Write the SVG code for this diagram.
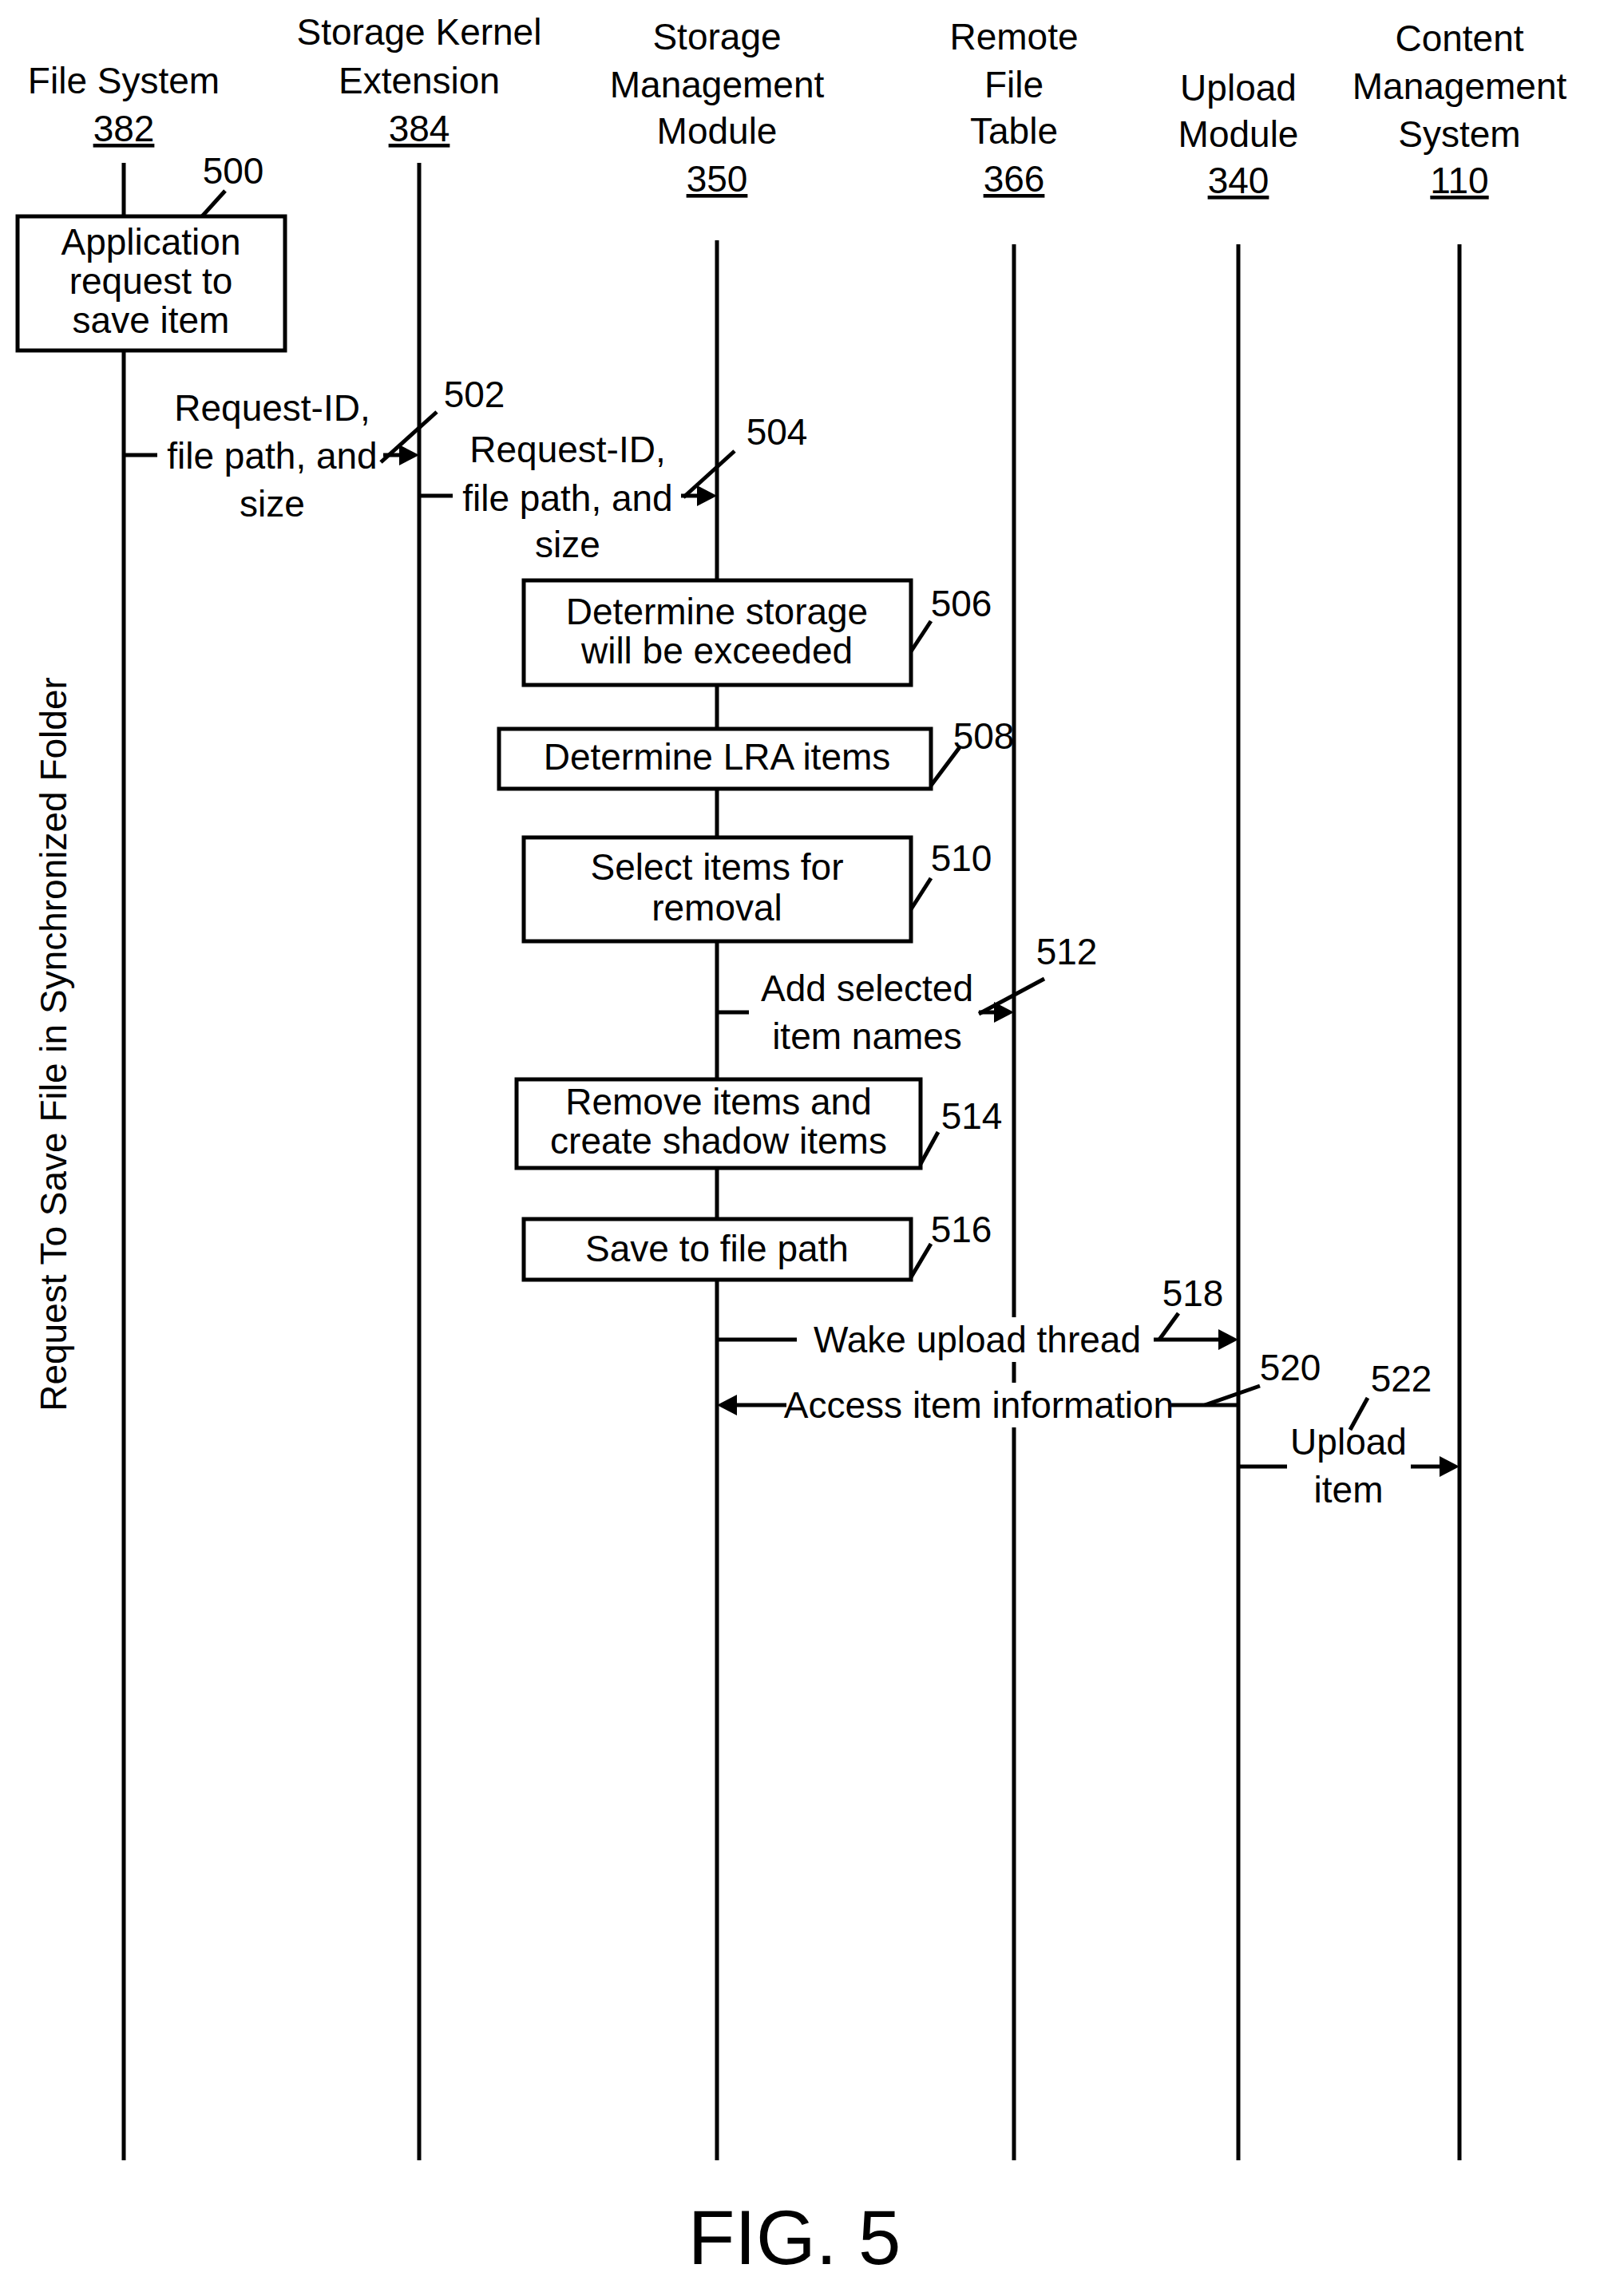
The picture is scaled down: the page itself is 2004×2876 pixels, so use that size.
<svg xmlns="http://www.w3.org/2000/svg" width="2004" height="2876" viewBox="0 0 2004 2876">
<style>
text{font-family:"Liberation Sans",Arial,sans-serif;font-size:46px;fill:#000;text-anchor:middle}
.l{stroke:#000;stroke-width:5;fill:none}
.b{stroke:#000;stroke-width:5;fill:#fff}
.u{text-decoration:underline}
</style>
<rect width="2004" height="2876" fill="#fff"/>
<g id="lifelines" class="l">
<line x1="155" y1="204" x2="155" y2="2706"/>
<line x1="525" y1="204" x2="525" y2="2706"/>
<line x1="898" y1="301" x2="898" y2="2706"/>
<line x1="1270" y1="306" x2="1270" y2="2706"/>
<line x1="1551" y1="306" x2="1551" y2="2706"/>
<line x1="1828" y1="306" x2="1828" y2="2706"/>
</g>
<g id="headers">
<text x="155" y="117">File System</text><text x="155" y="177" class="u">382</text>
<text x="525" y="56">Storage Kernel</text><text x="525" y="117">Extension</text><text x="525" y="177" class="u">384</text>
<text x="898" y="62">Storage</text><text x="898" y="122">Management</text><text x="898" y="180">Module</text><text x="898" y="240" class="u">350</text>
<text x="1270" y="62">Remote</text><text x="1270" y="122">File</text><text x="1270" y="180">Table</text><text x="1270" y="240" class="u">366</text>
<text x="1551" y="126">Upload</text><text x="1551" y="184">Module</text><text x="1551" y="242" class="u">340</text>
<text x="1828" y="64">Content</text><text x="1828" y="124">Management</text><text x="1828" y="184">System</text><text x="1828" y="242" class="u">110</text>
</g>
<g id="n500"><rect class="b" x="22" y="271" width="335" height="168"/>
<text x="189" y="319">Application</text><text x="189" y="368">request to</text><text x="189" y="417">save item</text>
<text x="292" y="230">500</text><line class="l" x1="282" y1="239" x2="253" y2="271"/></g>
<g id="n506"><rect class="b" x="656" y="727" width="485" height="131"/>
<text x="898" y="782">Determine storage</text><text x="898" y="831">will be exceeded</text>
<text x="1204" y="772">506</text><line class="l" x1="1166" y1="778" x2="1141" y2="816"/></g>
<g id="n508"><rect class="b" x="625" y="913" width="541" height="75"/>
<text x="898" y="964">Determine LRA items</text>
<text x="1232" y="938">508</text><line class="l" x1="1202" y1="936" x2="1166" y2="984"/></g>
<g id="n510"><rect class="b" x="656" y="1049" width="485" height="130"/>
<text x="898" y="1102">Select items for</text><text x="898" y="1153">removal</text>
<text x="1204" y="1091">510</text><line class="l" x1="1166" y1="1100" x2="1141" y2="1139"/></g>
<g id="n514"><rect class="b" x="647" y="1352" width="506" height="111"/>
<text x="900" y="1396">Remove items and</text><text x="900" y="1445">create shadow items</text>
<text x="1217" y="1414">514</text><line class="l" x1="1175" y1="1418" x2="1153" y2="1458"/></g>
<g id="n516"><rect class="b" x="656" y="1527" width="485" height="76"/>
<text x="898" y="1580">Save to file path</text>
<text x="1204" y="1556">516</text><line class="l" x1="1166" y1="1558" x2="1141" y2="1600"/></g>
<g id="connectors">
<line class="l" x1="155" y1="570" x2="197" y2="570"/><line class="l" x1="480" y1="570" x2="502" y2="570"/><polygon points="525,570 500,557 500,583"/>
<text x="341" y="527">Request-ID,</text><text x="341" y="587">file path, and</text><text x="341" y="647">size</text>
<text x="594" y="510">502</text><line class="l" x1="547" y1="516" x2="477" y2="579"/>
<line class="l" x1="525" y1="621" x2="567" y2="621"/><line class="l" x1="853" y1="621" x2="875" y2="621"/><polygon points="898,621 873,608 873,634"/>
<text x="711" y="579">Request-ID,</text><text x="711" y="640">file path, and</text><text x="711" y="698">size</text>
<text x="973" y="557">504</text><line class="l" x1="920" y1="565" x2="856" y2="623"/>
<line class="l" x1="898" y1="1268" x2="938" y2="1268"/><line class="l" x1="1226" y1="1268" x2="1245" y2="1268"/><polygon points="1270,1268 1245,1255 1245,1281"/>
<text x="1086" y="1254">Add selected</text><text x="1086" y="1314">item names</text>
<text x="1336" y="1208">512</text><line class="l" x1="1308" y1="1226" x2="1226" y2="1270"/>
<line class="l" x1="898" y1="1678" x2="998" y2="1678"/><rect x="1000" y="1650" width="445" height="56" fill="#fff"/><line class="l" x1="1445" y1="1678" x2="1528" y2="1678"/><polygon points="1551,1678 1526,1665 1526,1691"/>
<text x="1224" y="1694">Wake upload thread</text>
<text x="1494" y="1636">518</text><line class="l" x1="1476" y1="1645" x2="1452" y2="1678"/>
<polygon points="898,1760 923,1747 923,1773"/><line class="l" x1="920" y1="1760" x2="985" y2="1760"/><rect x="987" y="1732" width="478" height="56" fill="#fff"/><line class="l" x1="1467" y1="1760" x2="1551" y2="1760"/>
<text x="1226" y="1776">Access item information</text>
<text x="1616" y="1729">520</text><line class="l" x1="1578" y1="1736" x2="1509" y2="1760"/>
<line class="l" x1="1551" y1="1837" x2="1612" y2="1837"/><line class="l" x1="1767" y1="1837" x2="1805" y2="1837"/><polygon points="1828,1837 1803,1824 1803,1850"/>
<text x="1689" y="1822">Upload</text><text x="1689" y="1882">item</text>
<text x="1755" y="1743">522</text><line class="l" x1="1713" y1="1751" x2="1691" y2="1791"/>
</g>
<text x="0" y="0" transform="translate(83,1308) rotate(-90)">Request To Save File in Synchronized Folder</text>
<text x="995" y="2836" style="font-size:96px">FIG. 5</text>
</svg>
